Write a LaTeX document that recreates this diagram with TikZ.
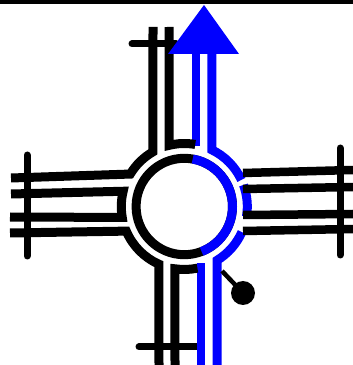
\documentclass[tikz,border=0pt]{standalone}
\begin{document}
\begin{tikzpicture}[x=1pt,y=1pt,
  road/.style={line width=8.5pt,black,line join=miter},
  ring/.style={road,line width=9pt},
  busroad/.style={road,blue},
  busring/.style={ring,blue},
  bar/.style={line width=7pt,black,line cap=round}]
\useasboundingbox (0,0) rectangle (353,365);
\coordinate (c) at (184.3,158.5);
% top rule
\draw[line width=4pt] (0,362.7) -- (353,362.7);
% stop bars
\draw[bar] (27,210) -- (27,109);
\draw[bar] (340,217) -- (340,110);
\draw[bar] (132,321) -- (176,321);
\draw[bar] (139,18) -- (199,18);
% inner ring
\draw[ring] (c) circle[radius=48.2];
\draw[busring] ([shift={(c)}]80:48.2) arc[start angle=80,end angle=-69,radius=48.2];
% bus route
\draw[busroad] (196,330) -- (196,219);
\draw[busring] (212,330) -- ([shift={(c)}]64:63) arc[start angle=64,end angle=25,radius=63];
\draw[busring] ([shift={(c)}]20:63) arc[start angle=20,end angle=-9,radius=63];
\draw[busring] ([shift={(c)}]-24:63) arc[start angle=-24,end angle=-58.7,radius=63] -- (217,0);
\draw[busroad] (201,0) -- (201,102);
% black approach paths
\draw[ring] (11,187) -- ([shift={(c)}]149:63) arc[start angle=149,end angle=119.8,radius=63] -- (153,338);
\draw[ring] (11,171) -- ([shift={(c)}]166:63) arc[start angle=166,end angle=190,radius=63] -- (10,148);
\draw[ring] (10,132) -- ([shift={(c)}]203:63) arc[start angle=203,end angle=246.3,radius=63] -- (159,0);
\draw[ring] (169,338) -- ([shift={(c)}]104:63) arc[start angle=104,end angle=80,radius=63];
\draw[ring] (175,0) -- ([shift={(c)}]-98.5:63) arc[start angle=-98.5,end angle=-78,radius=63];
\draw[road] (243,192) -- (353,195);
\draw[road] (243,176) -- (353,178);
\draw[road] (243,150) -- (353,151);
\draw[road] (243,134) -- (353,136);
% arrow head over the approach
\fill[blue] (204,360) -- (239,311) -- (168,311) -- cycle;
% signal
\coordinate (sig) at (243,72);
\draw[line width=4.5pt] (222,94) -- (sig);
\fill (sig) circle[radius=12];
\end{tikzpicture}
\end{document}
